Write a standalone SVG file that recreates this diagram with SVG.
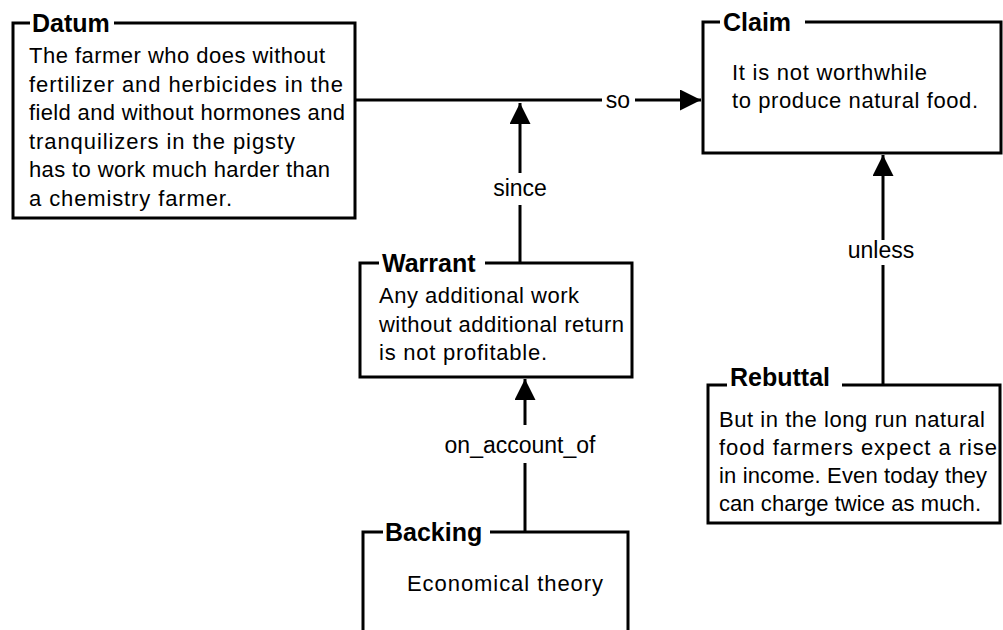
<svg xmlns="http://www.w3.org/2000/svg" width="1003" height="630" viewBox="0 0 1003 630">
<defs>
<style>
.box{fill:none;stroke:#000;stroke-width:3;stroke-linejoin:miter}
.ln{fill:none;stroke:#000;stroke-width:3}
.ttl{font-family:"Liberation Sans",Arial,sans-serif;font-weight:bold;font-size:25px;fill:#000}
.txt{font-family:"Liberation Sans",Arial,sans-serif;font-size:22px;fill:#000}
.lbl{font-family:"Liberation Sans",Arial,sans-serif;font-size:23px;fill:#000;text-anchor:middle}
</style>
<marker id="ah" viewBox="0 0 10 10" refX="10" refY="5" markerWidth="7" markerHeight="7" markerUnits="strokeWidth" orient="auto">
<path d="M0,0 L10,5 L0,10 Z" fill="#000"/>
</marker>
</defs>
<rect width="1003" height="630" fill="#fff"/>

<g id="connectors">
<line class="ln" x1="355" y1="100" x2="602" y2="100"/>
<text class="lbl" x="618" y="108">so</text>
<line class="ln" x1="635" y1="100" x2="701" y2="100" marker-end="url(#ah)"/>
<line class="ln" x1="520" y1="263" x2="520" y2="205"/>
<text class="lbl" x="520" y="196">since</text>
<line class="ln" x1="520" y1="173" x2="520" y2="103" marker-end="url(#ah)"/>
<line class="ln" x1="883" y1="385" x2="883" y2="265"/>
<text class="lbl" x="881" y="258">unless</text>
<line class="ln" x1="883" y1="240" x2="883" y2="155" marker-end="url(#ah)"/>
<line class="ln" x1="525" y1="532" x2="525" y2="463"/>
<text class="lbl" x="520" y="453">on_account_of</text>
<line class="ln" x1="525" y1="425" x2="525" y2="379" marker-end="url(#ah)"/>
</g>

<g id="datum">
<path class="box" d="M30,23 H13 V218 H355 V23 H114"/>
<text class="ttl" x="32" y="32">Datum</text>
<text class="txt" x="29" y="63" textLength="296" lengthAdjust="spacing">The farmer who does without</text>
<text class="txt" x="29" y="92" textLength="314" lengthAdjust="spacing">fertilizer and herbicides in the</text>
<text class="txt" x="29" y="120" textLength="316" lengthAdjust="spacing">field and without hormones and</text>
<text class="txt" x="29" y="149" textLength="266" lengthAdjust="spacing">tranquilizers in the pigsty</text>
<text class="txt" x="29" y="177" textLength="301" lengthAdjust="spacing">has to work much harder than</text>
<text class="txt" x="29" y="206" textLength="203" lengthAdjust="spacing">a chemistry farmer.</text>
</g>

<g id="claim">
<path class="box" d="M720,22 H703 V153 H1001 V22 H805"/>
<text class="ttl" x="723" y="31">Claim</text>
<text class="txt" x="732" y="80" textLength="195" lengthAdjust="spacing">It is not worthwhile</text>
<text class="txt" x="732" y="108" textLength="246" lengthAdjust="spacing">to produce natural food.</text>
</g>

<g id="warrant">
<path class="box" d="M379,263 H360 V377 H632 V263 H485"/>
<text class="ttl" x="382" y="272">Warrant</text>
<text class="txt" x="379" y="303" textLength="200" lengthAdjust="spacing">Any additional work</text>
<text class="txt" x="379" y="332" textLength="245" lengthAdjust="spacing">without additional return</text>
<text class="txt" x="379" y="360" textLength="168" lengthAdjust="spacing">is not profitable.</text>
</g>

<g id="rebuttal">
<path class="box" d="M727,385 H708 V523 H1000 V385 H842"/>
<text class="ttl" x="730" y="386">Rebuttal</text>
<text class="txt" x="719" y="427" textLength="266" lengthAdjust="spacing">But in the long run natural</text>
<text class="txt" x="719" y="455" textLength="278" lengthAdjust="spacing">food farmers expect a rise</text>
<text class="txt" x="719" y="483" textLength="268" lengthAdjust="spacing">in income. Even today they</text>
<text class="txt" x="719" y="511" textLength="262" lengthAdjust="spacing">can charge twice as much.</text>
</g>

<g id="backing">
<path class="box" d="M383,532 H363 V631"/>
<path class="box" d="M490,532 H628 V631"/>
<text class="ttl" x="385" y="541">Backing</text>
<text class="txt" x="407" y="591" textLength="196" lengthAdjust="spacing">Economical theory</text>
</g>
</svg>
